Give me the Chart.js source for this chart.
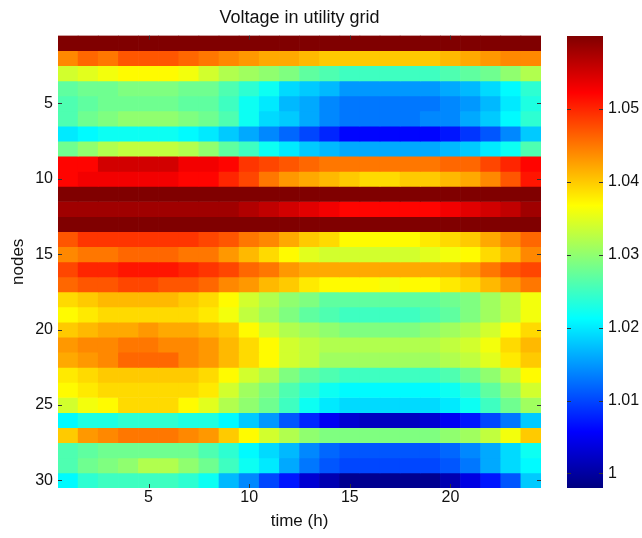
<!DOCTYPE html>
<html>
<head>
<meta charset="utf-8">
<script src="https://cdn.jsdelivr.net/npm/chart.js@4"></script>
<style>
  body { margin: 0; background: #fff; }
  #wrap { position: relative; width: 642px; height: 538px; }
  #heatCanvas { position: absolute; left: 0; top: 0; }
  #barCanvas { position: absolute; left: 547px; top: 0; }
</style>
</head>
<body>
<div id="wrap">
  <canvas id="heatCanvas" width="560" height="538"></canvas>
  <canvas id="barCanvas" width="95" height="538"></canvas>
</div>
<script>
// --- data ---
const hours = [1, 2, 3, 4, 5, 6, 7, 8, 9, 10, 11, 12, 13, 14, 15, 16, 17, 18, 19, 20, 21, 22, 23, 24];
const nodes = [1, 2, 3, 4, 5, 6, 7, 8, 9, 10, 11, 12, 13, 14, 15, 16, 17, 18, 19, 20, 21, 22, 23, 24, 25, 26, 27, 28, 29, 30];
const xTicks = [5, 10, 15, 20];
const yTicks = [5, 10, 15, 20, 25, 30];
const cbTicks = [1, 1.01, 1.02, 1.03, 1.04, 1.05];
const cMin = 0.998, cMax = 1.06;

// voltage[node-1][hour-1]
const voltage = [
  [1.060,1.060,1.060,1.060,1.060,1.060,1.060,1.060,1.060,1.060,1.060,1.060,1.060,1.060,1.060,1.060,1.060,1.060,1.060,1.060,1.060,1.060,1.060,1.060],
  [1.044,1.046,1.045,1.047,1.047,1.047,1.046,1.045,1.044,1.043,1.042,1.042,1.041,1.040,1.040,1.040,1.040,1.040,1.040,1.041,1.042,1.043,1.044,1.044],
  [1.034,1.035,1.036,1.037,1.037,1.037,1.036,1.034,1.032,1.031,1.030,1.029,1.027,1.026,1.025,1.025,1.025,1.025,1.025,1.026,1.027,1.028,1.030,1.032],
  [1.027,1.028,1.028,1.029,1.029,1.029,1.028,1.028,1.026,1.024,1.022,1.019,1.018,1.017,1.015,1.015,1.015,1.015,1.015,1.016,1.017,1.019,1.021,1.024],
  [1.026,1.027,1.028,1.028,1.028,1.028,1.027,1.027,1.025,1.022,1.020,1.017,1.016,1.014,1.013,1.013,1.013,1.013,1.013,1.014,1.015,1.017,1.020,1.023],
  [1.026,1.028,1.029,1.030,1.030,1.030,1.029,1.028,1.026,1.022,1.019,1.018,1.016,1.014,1.013,1.013,1.013,1.013,1.014,1.014,1.016,1.018,1.021,1.024],
  [1.020,1.021,1.022,1.022,1.022,1.022,1.021,1.020,1.018,1.016,1.014,1.012,1.010,1.008,1.006,1.006,1.006,1.006,1.006,1.007,1.009,1.011,1.014,1.018],
  [1.028,1.030,1.032,1.033,1.033,1.033,1.032,1.030,1.027,1.025,1.022,1.020,1.018,1.017,1.016,1.016,1.016,1.016,1.016,1.017,1.018,1.020,1.022,1.026],
  [1.052,1.052,1.055,1.055,1.055,1.055,1.053,1.053,1.052,1.049,1.048,1.047,1.046,1.045,1.045,1.045,1.045,1.045,1.045,1.046,1.046,1.048,1.050,1.052],
  [1.052,1.053,1.053,1.053,1.053,1.053,1.052,1.052,1.050,1.048,1.045,1.043,1.042,1.041,1.040,1.039,1.039,1.040,1.040,1.041,1.042,1.044,1.047,1.051],
  [1.060,1.060,1.060,1.060,1.060,1.060,1.060,1.060,1.060,1.060,1.060,1.060,1.060,1.060,1.060,1.060,1.060,1.060,1.060,1.060,1.060,1.060,1.060,1.060],
  [1.058,1.058,1.058,1.058,1.058,1.058,1.058,1.058,1.058,1.057,1.056,1.055,1.054,1.053,1.052,1.052,1.052,1.052,1.052,1.053,1.054,1.055,1.056,1.058],
  [1.060,1.060,1.060,1.060,1.060,1.060,1.060,1.060,1.060,1.060,1.060,1.060,1.060,1.060,1.060,1.060,1.060,1.060,1.060,1.060,1.060,1.060,1.060,1.060],
  [1.047,1.049,1.049,1.049,1.049,1.049,1.049,1.048,1.047,1.045,1.044,1.042,1.040,1.039,1.037,1.037,1.037,1.037,1.038,1.039,1.040,1.042,1.044,1.046],
  [1.044,1.045,1.045,1.046,1.046,1.046,1.045,1.045,1.043,1.041,1.039,1.037,1.035,1.034,1.034,1.034,1.034,1.034,1.035,1.036,1.037,1.039,1.041,1.044],
  [1.048,1.050,1.050,1.051,1.051,1.051,1.050,1.049,1.048,1.046,1.045,1.043,1.042,1.042,1.042,1.042,1.042,1.042,1.042,1.042,1.043,1.045,1.047,1.048],
  [1.046,1.047,1.047,1.048,1.048,1.047,1.047,1.046,1.044,1.043,1.041,1.040,1.038,1.037,1.037,1.037,1.036,1.037,1.037,1.038,1.039,1.041,1.043,1.045],
  [1.039,1.040,1.041,1.041,1.041,1.041,1.040,1.039,1.037,1.034,1.032,1.030,1.029,1.027,1.027,1.027,1.027,1.027,1.027,1.028,1.029,1.031,1.033,1.036],
  [1.037,1.038,1.039,1.039,1.039,1.039,1.039,1.038,1.036,1.033,1.031,1.029,1.027,1.026,1.025,1.025,1.025,1.025,1.026,1.027,1.029,1.031,1.033,1.036],
  [1.040,1.041,1.042,1.042,1.043,1.042,1.042,1.041,1.040,1.037,1.034,1.032,1.031,1.030,1.029,1.029,1.029,1.029,1.030,1.031,1.032,1.034,1.037,1.039],
  [1.043,1.044,1.044,1.045,1.045,1.044,1.044,1.043,1.041,1.039,1.037,1.034,1.033,1.032,1.032,1.032,1.032,1.032,1.032,1.033,1.034,1.036,1.039,1.041],
  [1.042,1.043,1.044,1.046,1.046,1.046,1.044,1.043,1.041,1.039,1.037,1.034,1.033,1.031,1.031,1.031,1.031,1.031,1.031,1.032,1.033,1.035,1.038,1.040],
  [1.038,1.039,1.040,1.040,1.040,1.040,1.040,1.039,1.037,1.034,1.032,1.029,1.027,1.026,1.025,1.025,1.025,1.025,1.025,1.026,1.028,1.030,1.033,1.037],
  [1.037,1.038,1.039,1.039,1.039,1.039,1.039,1.038,1.034,1.031,1.029,1.026,1.024,1.022,1.021,1.021,1.021,1.021,1.021,1.022,1.024,1.027,1.030,1.034],
  [1.034,1.036,1.037,1.039,1.039,1.039,1.037,1.035,1.032,1.030,1.028,1.025,1.022,1.020,1.019,1.019,1.019,1.019,1.019,1.020,1.022,1.025,1.028,1.031],
  [1.021,1.023,1.023,1.024,1.024,1.024,1.023,1.023,1.021,1.018,1.015,1.011,1.008,1.005,1.003,1.002,1.002,1.002,1.003,1.005,1.007,1.010,1.013,1.018],
  [1.040,1.043,1.044,1.045,1.045,1.045,1.044,1.043,1.040,1.037,1.034,1.032,1.030,1.029,1.029,1.029,1.029,1.029,1.029,1.030,1.031,1.033,1.036,1.040],
  [1.026,1.027,1.028,1.028,1.028,1.028,1.028,1.026,1.024,1.021,1.019,1.017,1.014,1.012,1.011,1.011,1.011,1.011,1.011,1.012,1.014,1.016,1.019,1.022],
  [1.026,1.028,1.029,1.030,1.032,1.032,1.030,1.028,1.025,1.022,1.020,1.016,1.013,1.011,1.010,1.010,1.010,1.010,1.010,1.011,1.013,1.016,1.019,1.021],
  [1.021,1.024,1.025,1.025,1.025,1.025,1.024,1.022,1.017,1.014,1.010,1.007,1.003,1.001,0.999,0.999,0.999,0.999,0.999,1.001,1.004,1.007,1.011,1.018]
];

// --- jet colormap ---
const FONT = '"Liberation Sans", Arial, Helvetica, sans-serif';
function clamp01(v) { return Math.max(0, Math.min(1, v)); }
function jetAt(t) {
  const r = clamp01(1.5 - Math.abs(4 * t - 3));
  const g = clamp01(1.5 - Math.abs(4 * t - 2));
  const b = clamp01(1.5 - Math.abs(4 * t - 1));
  return 'rgb(' + Math.round(r * 255) + ',' + Math.round(g * 255) + ',' + Math.round(b * 255) + ')';
}
function jet(v) { return jetAt(clamp01((v - cMin) / (cMax - cMin))); }

// inward tick marks, matlab style
const tickMarks = {
  id: 'tickMarks',
  afterDraw(chart) {
    const { ctx, chartArea: a, scales } = chart;
    ctx.save();
    ctx.strokeStyle = '#333';
    ctx.lineWidth = 1;
    ctx.beginPath();
    yTicks.forEach(v => {
      const py = Math.round(scales.y.getPixelForValue(v)) + 0.5;
      ctx.moveTo(a.left, py); ctx.lineTo(a.left + 4, py);
      ctx.moveTo(a.right, py); ctx.lineTo(a.right - 4, py);
    });
    xTicks.forEach(h => {
      const px = Math.round(scales.x.getPixelForValue(hours.indexOf(h))) + 0.5;
      ctx.moveTo(px, a.top); ctx.lineTo(px, a.top + 4);
      ctx.moveTo(px, a.bottom); ctx.lineTo(px, a.bottom - 4);
    });
    ctx.stroke();
    ctx.restore();
  }
};

// --- heatmap (floating bars, one dataset per node) ---
const datasets = nodes.map((n, i) => ({
  label: 'node ' + n,
  data: hours.map(() => [n - 0.5, n + 0.5]),
  backgroundColor: voltage[i].map(jet),
  borderWidth: 0,
  barPercentage: 1,
  categoryPercentage: 1,
  grouped: false
}));

new Chart(document.getElementById('heatCanvas'), {
  type: 'bar',
  data: { labels: hours, datasets },
  options: {
    responsive: false,
    animation: false,
    events: [],
    layout: { padding: { left: 0, right: 19, top: 0, bottom: 0 } },
    plugins: {
      legend: { display: false },
      tooltip: { enabled: false },
      title: {
        display: true, text: 'Voltage in utility grid', color: '#111',
        fullSize: false,
        font: { family: FONT, size: 18, weight: 'normal' },
        padding: { top: 7, bottom: 7 }
      }
    },
    scales: {
      x: {
        type: 'category',
        grid: { display: false, drawTicks: false },
        border: { display: false },
        ticks: {
          autoSkip: false, maxRotation: 0, padding: 0, color: '#111',
          font: { family: FONT, size: 16 },
          callback: (v, i) => xTicks.includes(hours[i]) ? String(hours[i]) : ''
        },
        title: {
          display: true, text: 'time (h)', color: '#111',
          font: { family: FONT, size: 17 }, padding: { top: 0, bottom: 6 }
        },
        afterFit: s => { s.height = 50; }
      },
      y: {
        type: 'linear', reverse: true, min: 0.5, max: 30.5,
        afterBuildTicks: s => { s.ticks = yTicks.map(v => ({ value: v })); },
        grid: { display: false, drawTicks: false },
        border: { display: false },
        ticks: { padding: 5, color: '#111', font: { family: FONT, size: 16 } },
        title: {
          display: true, text: 'nodes', color: '#111',
          font: { family: FONT, size: 17 }, padding: { top: 8, bottom: 0 }
        },
        afterFit: s => { s.width = 58; }
      }
    }
  },
  plugins: [tickMarks]
});

// --- colorbar ---
const cbMarks = {
  id: 'cbMarks',
  afterDraw(chart) {
    const { ctx, chartArea: a, scales } = chart;
    ctx.save();
    ctx.strokeStyle = '#333';
    ctx.lineWidth = 1;
    ctx.beginPath();
    cbTicks.forEach(v => {
      const py = Math.round(scales.y.getPixelForValue(v)) + 0.5;
      ctx.moveTo(a.left, py); ctx.lineTo(a.left + 4, py);
      ctx.moveTo(a.right, py); ctx.lineTo(a.right - 4, py);
    });
    ctx.stroke();
    ctx.restore();
  }
};

new Chart(document.getElementById('barCanvas'), {
  type: 'bar',
  data: {
    labels: [''],
    datasets: [{
      data: [[cMin, cMax]],
      backgroundColor: c => {
        const a = c.chart.chartArea;
        if (!a) return 'transparent';
        const grad = c.chart.ctx.createLinearGradient(0, a.bottom, 0, a.top);
        for (let k = 0; k <= 8; k++) grad.addColorStop(k / 8, jetAt(k / 8));
        return grad;
      },
      borderWidth: 0,
      barPercentage: 1,
      categoryPercentage: 1
    }]
  },
  options: {
    responsive: false,
    animation: false,
    events: [],
    layout: { padding: { left: 20, right: 0, top: 36, bottom: 50 } },
    plugins: { legend: { display: false }, tooltip: { enabled: false } },
    scales: {
      x: { display: false },
      y: {
        position: 'right', min: cMin, max: cMax,
        afterBuildTicks: s => { s.ticks = cbTicks.map(v => ({ value: v })); },
        grid: { display: false, drawTicks: false },
        border: { display: false },
        ticks: {
          padding: 5, color: '#111', font: { family: FONT, size: 16 },
          callback: v => String(v)
        },
        afterFit: s => { s.width = 39; }
      }
    }
  },
  plugins: [cbMarks]
});
</script>
</body>
</html>
